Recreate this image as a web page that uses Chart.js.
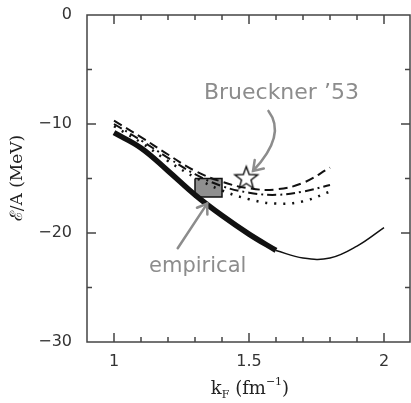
<!DOCTYPE html>
<html>
<head>
<meta charset="utf-8">
<script src="https://cdn.jsdelivr.net/npm/chart.js@4/dist/chart.umd.min.js"></script>
<style>
  html, body { margin: 0; padding: 0; background: #fff; }
  canvas { display: block; }
</style>
</head>
<body>
<canvas id="eos" width="411" height="403"></canvas>
<script>
// the three dashed calculations share one k_F grid
var kfDashed = [1.0, 1.1, 1.2, 1.3, 1.4, 1.5, 1.6, 1.7, 1.8];
var eDashTop = [-9.7, -11.2, -12.8, -14.3, -15.3, -15.9, -16.0, -15.4, -14.0];
var eDashMid = [-10.0, -11.5, -13.1, -14.6, -15.7, -16.3, -16.5, -16.2, -15.6];
var eDotLow = [-10.2, -11.7, -13.4, -14.9, -16.1, -16.9, -17.3, -17.1, -16.2];

// solid curve: thick part, then thin continuation
var kfThick = [1.0, 1.1, 1.2, 1.3, 1.4, 1.5, 1.6];
var eThick = [-10.8, -12.2, -14.3, -16.5, -18.4, -20.1, -21.6];
var kfThin = [1.6, 1.7, 1.8, 1.9, 2.0];
var eThin = [-21.6, -22.3, -22.3, -21.2, -19.5];

// empirical saturation box and Brueckner point
var boxKf = [1.30, 1.40, 1.40, 1.30, 1.30];
var boxE = [-15.0, -15.0, -16.7, -16.7, -15.0];
var starKf = [1.49];
var starE = [-15.0];

var xTickLabels = [1, 1.5, 2];
var yTickLabels = [0, -10, -20, -30];

function pts(xs, ys) {
    return xs.map(function (x, i) { return { x: x, y: ys[i] }; });
}

// five pointed star used as point style
function makeStar() {
    var c = document.createElement('canvas');
    c.width = 30; c.height = 30;
    var g = c.getContext('2d');
    g.beginPath();
    for (var i = 0; i < 10; i++) {
        var r = (i % 2 === 0) ? 12 : 5;
        var a = -Math.PI / 2 + i * Math.PI / 5;
        var px = 15 + r * Math.cos(a), py = 15 + r * Math.sin(a);
        if (i === 0) g.moveTo(px, py); else g.lineTo(px, py);
    }
    g.closePath();
    g.fillStyle = '#fff';
    g.fill();
    g.lineWidth = 1.4;
    g.strokeStyle = '#111';
    g.stroke();
    return c;
}

var AXIS = '#444';
var NOTE = '#8c8c8c';

var frame = {
    id: 'frame',
    afterDraw: function (chart) {
        var a = chart.chartArea, ctx = chart.ctx;
        var xs = chart.scales.x, ys = chart.scales.y;
        ctx.save();
        ctx.strokeStyle = AXIS;
        ctx.lineWidth = 1.5;
        ctx.strokeRect(a.left, a.top, a.right - a.left - 1, a.bottom - a.top);
        ctx.beginPath();
        for (var k = 10; k <= 20; k++) {
            var px = xs.getPixelForValue(k / 10);
            var len = (k % 5 === 0) ? 9 : 5;
            ctx.moveTo(px, a.bottom); ctx.lineTo(px, a.bottom - len);
            ctx.moveTo(px, a.top); ctx.lineTo(px, a.top + len);
        }
        for (var m = 1; m < 6; m++) {
            var py = ys.getPixelForValue(-5 * m);
            var l2 = (m % 2 === 0) ? 9 : 5;
            ctx.moveTo(a.left, py); ctx.lineTo(a.left + l2, py);
            ctx.moveTo(a.right - 1, py); ctx.lineTo(a.right - 1 - l2, py);
        }
        ctx.stroke();

        // axis titles
        ctx.fillStyle = '#222';
        ctx.textBaseline = 'alphabetic';
        var parts = [['k', 18, 0], ['F', 11, 4], [' (fm', 18, 0], ['\u22121', 11, -9], [')', 18, 0]];
        var total = 0;
        parts.forEach(function (p) { ctx.font = p[1] + 'px "DejaVu Serif"'; total += ctx.measureText(p[0]).width; });
        var x0 = 250 - total / 2, base = 394;
        parts.forEach(function (p) {
            ctx.font = p[1] + 'px "DejaVu Serif"';
            ctx.fillText(p[0], x0, base + p[2]);
            x0 += ctx.measureText(p[0]).width;
        });
        ctx.save();
        ctx.translate(22, 178);
        ctx.rotate(-Math.PI / 2);
        ctx.font = '17px "DejaVu Serif"';
        ctx.textAlign = 'center';
        ctx.fillText('\u2130/A (MeV)', 0, 0);
        ctx.restore();

        // hand-written notes with arrows
        ctx.fillStyle = NOTE;
        ctx.strokeStyle = NOTE;
        ctx.lineWidth = 2.5;
        ctx.lineCap = 'round';
        ctx.textAlign = 'center';
        ctx.font = '22px "DejaVu Sans"';
        ctx.fillText('Brueckner \u201953', xs.getPixelForValue(1.62), ys.getPixelForValue(-7.7));
        ctx.font = '21px "DejaVu Sans"';
        ctx.fillText('empirical', xs.getPixelForValue(1.31), ys.getPixelForValue(-23.6));

        function arrow(x1, y1, cx1, cy1, x2, y2, ang) {
            var p1x = xs.getPixelForValue(x1), p1y = ys.getPixelForValue(y1);
            var qx = xs.getPixelForValue(cx1), qy = ys.getPixelForValue(cy1);
            var p2x = xs.getPixelForValue(x2), p2y = ys.getPixelForValue(y2);
            ctx.beginPath();
            ctx.moveTo(p1x, p1y);
            ctx.quadraticCurveTo(qx, qy, p2x, p2y);
            ctx.stroke();
            var d = Math.atan2(p2y - qy, p2x - qx);
            ctx.beginPath();
            ctx.moveTo(p2x - 11 * Math.cos(d - ang), p2y - 11 * Math.sin(d - ang));
            ctx.lineTo(p2x, p2y);
            ctx.lineTo(p2x - 11 * Math.cos(d + ang), p2y - 11 * Math.sin(d + ang));
            ctx.stroke();
        }
        arrow(1.572, -8.8, 1.64, -11.0, 1.515, -14.3, 0.6);
        arrow(1.236, -21.4, 1.30, -19.0, 1.345, -17.3, 0.6);
        ctx.restore();
    }
};

var lineBase = { pointRadius: 0, fill: false, tension: 0.4, borderColor: '#111' };

new Chart(document.getElementById('eos'), {
    type: 'line',
    data: {
        datasets: [
            Object.assign({}, lineBase, { data: pts(kfDashed, eDashTop), borderWidth: 2, borderDash: [9, 5] }),
            Object.assign({}, lineBase, { data: pts(kfDashed, eDashMid), borderWidth: 2, borderDash: [9, 4, 2, 4] }),
            Object.assign({}, lineBase, { data: pts(kfDashed, eDotLow), borderWidth: 2.5, borderDash: [2, 7] }),
            Object.assign({}, lineBase, { data: pts(kfThin, eThin), borderWidth: 1.5 }),
            Object.assign({}, lineBase, { data: pts(kfThick, eThick), borderWidth: 5.5, borderCapStyle: 'butt' }),
            {
                data: pts(boxKf, boxE), pointRadius: 0, tension: 0, fill: 'shape',
                backgroundColor: '#8f8f8f', borderColor: '#111', borderWidth: 1.5
            },
            {
                data: pts(starKf, starE), showLine: false, pointStyle: makeStar(), pointRadius: 12
            }
        ]
    },
    options: {
        responsive: false,
        animation: false,
        devicePixelRatio: 1,
        layout: { autoPadding: false, padding: { top: 15, right: 0, left: 0, bottom: 0 } },
        plugins: { legend: { display: false }, tooltip: { enabled: false } },
        scales: {
            x: {
                type: 'linear', min: 0.9, max: 2.1,
                grid: { display: false, drawTicks: false },
                border: { display: false },
                afterBuildTicks: function (s) { s.ticks = xTickLabels.map(function (v) { return { value: v }; }); },
                afterFit: function (s) { s.height = 61; s.paddingLeft = 0; s.paddingRight = 0; },
                ticks: {
                    padding: 10, color: '#333', font: { family: 'DejaVu Sans', size: 16 },
                    maxRotation: 0, autoSkip: false,
                    callback: function (v) { return String(v); }
                }
            },
            y: {
                type: 'linear', min: -30, max: 0,
                grid: { display: false, drawTicks: false },
                border: { display: false },
                afterBuildTicks: function (s) { s.ticks = yTickLabels.map(function (v) { return { value: v }; }); },
                afterFit: function (s) { s.width = 87; s.paddingTop = 0; s.paddingBottom = 0; },
                ticks: {
                    padding: 15, color: '#333', font: { family: 'DejaVu Sans', size: 16 },
                    autoSkip: false,
                    callback: function (v) { return v < 0 ? '\u2212' + Math.abs(v) : String(v); }
                }
            }
        }
    },
    plugins: [frame]
});
</script>
</body>
</html>
